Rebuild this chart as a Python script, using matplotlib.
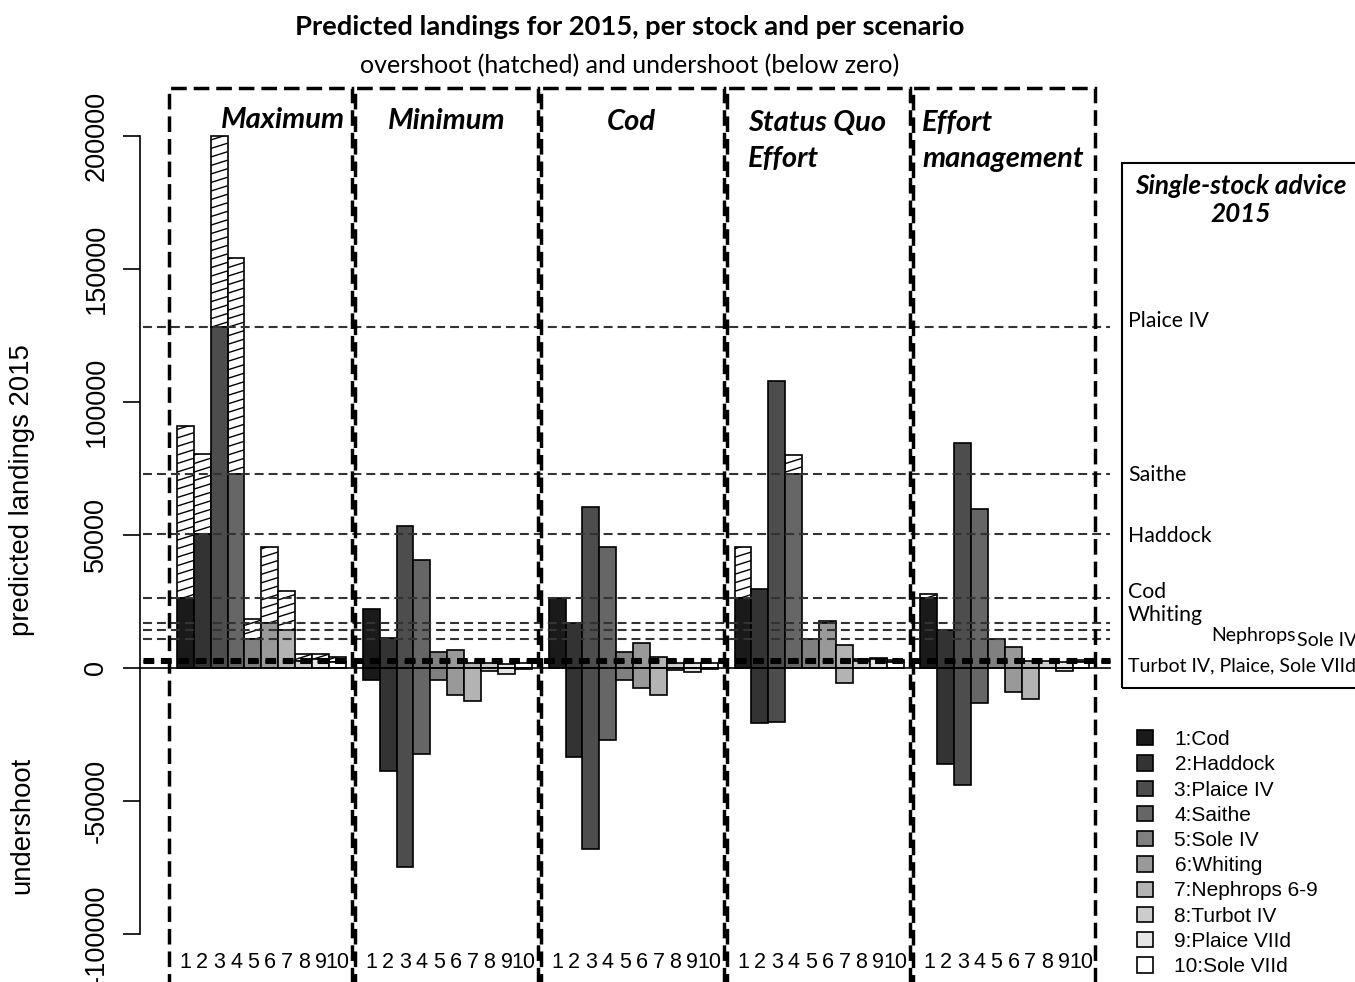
import numpy as np
import matplotlib.pyplot as plt
from matplotlib.patches import Rectangle, Patch
from matplotlib.collections import LineCollection

stocks = ['Cod', 'Haddock', 'Plaice IV', 'Saithe', 'Sole IV', 'Whiting',
          'Nephrops 6-9', 'Turbot IV', 'Plaice VIId', 'Sole VIId']
scenarios = ['Maximum', 'Minimum', 'Cod', 'Status Quo\nEffort', 'Effort\nmanagement']

# single-stock advice 2015 (tonnes)
advice = [26400, 50300, 128300, 72800, 10700, 17000, 14400, 2800, 3500, 2200]

# predicted landings 2015 per scenario
pred_maximum = [91000, 80500, 200000, 154000, 18400, 45500, 29000, 5300, 5300, 4000]
pred_minimum = [22000, 11400, 53400, 40600, 6100, 6800, 2000, 1800, 1400, 1900]
pred_cod = [26400, 16800, 60300, 45600, 6100, 9300, 4300, 2000, 1900, 2000]
pred_sq_effort = [45600, 29800, 108000, 80000, 10700, 17500, 8600, 3300, 3800, 2900]
pred_effort_mgmt = [27900, 14300, 84500, 59600, 10700, 8000, 2800, 2800, 2400, 3000]

preds = [pred_maximum, pred_minimum, pred_cod, pred_sq_effort, pred_effort_mgmt]

grays = ['#1a1a1a', '#333333', '#4d4d4d', '#666666', '#808080',
         '#999999', '#b3b3b3', '#cccccc', '#e6e6e6', '#ffffff']

W, H = 1355, 982
fig = plt.figure(figsize=(W / 100, H / 100), dpi=100)


def fpx(x, y):
    return x / W, 1 - y / H


ax = fig.add_axes([140 / W, 0, 1 - 140 / W, 1])
ax.set_xlim(-1.183, 70.71)
ax.set_ylim(-118000, 251000)

arial = 'Liberation Sans'
cal = 'Lato'


def hatch(ax, patch, x0, x1, y0, y1):
    spacing = 3200
    rise = 2000
    c0 = np.floor((y0 - rise * (x1 - x0)) / spacing) * spacing
    segs = []
    for c in np.arange(c0, y1 + spacing, spacing):
        segs.append([(x0, c), (x1, c + rise * (x1 - x0))])
    lc = LineCollection(segs, colors='black', linewidths=1.0, zorder=2.5)
    ax.add_collection(lc)
    lc.set_clip_path(patch)


for g, pred in enumerate(preds):
    for i in range(10):
        x = g * 11 + i + 1.5
        p, a = pred[i], advice[i]
        if p > a:
            b = ax.bar(x, p - a, bottom=a, width=1, color='white',
                       edgecolor='black', linewidth=1.2, zorder=2)
            hatch(ax, b.patches[0], x - 0.5, x + 0.5, a, p)
            ax.bar(x, a, width=1, color=grays[i], edgecolor='black',
                   linewidth=1.2, zorder=3)
        else:
            ax.bar(x, p, width=1, color=grays[i], edgecolor='black',
                   linewidth=1.2, zorder=3)
            if p < a:
                ax.bar(x, p - a, width=1, color=grays[i], edgecolor='black',
                       linewidth=1.2, zorder=3)
        ax.text(x, -110500, str(i + 1), ha='center', va='center',
                fontsize=15.5, family=arial)
    # dashed scenario box
    ax.add_patch(Rectangle((g * 11 + 1 - 0.45, -130000), 10.8, 348000,
                           fill=False, edgecolor='black', linewidth=2.5,
                           linestyle=(0, (4.5, 2)), zorder=5, clip_on=False))

# advice lines
for a in advice:
    thick = a < 5000
    ax.plot([-1.0, 56.2], [a, a], color='black' if thick else '#333333',
            linewidth=2.2 if thick else 1.5,
            linestyle=(0, (3.5, 2.2)) if thick else (0, (4.3, 2.4)), zorder=4)
ax.plot([-1.183, 56.2], [0, 0], color='black', linewidth=1.2, zorder=4)

# axis
for s in ['top', 'right', 'bottom']:
    ax.spines[s].set_visible(False)
ax.spines['left'].set_bounds(-100000, 200000)
ax.spines['left'].set_linewidth(1.2)
ax.set_xticks([])
yt = [-100000, -50000, 0, 50000, 100000, 150000, 200000]
ax.set_yticks(yt)
ax.set_yticklabels([str(v) for v in yt], rotation=90, va='center',
                   fontsize=19.5, family=arial)
ax.tick_params(axis='y', length=12, width=1.2, pad=10)

# right advice box
ax.add_patch(Rectangle((56.9, -7500), 20, 197300, fill=False,
                       edgecolor='black', linewidth=1.5, clip_on=False))
fig.text(*fpx(1241, 200), 'Single-stock advice\n2015', ha='center', va='center',
         fontsize=18.8, fontweight='bold', style='italic', family=cal,
         linespacing=1.2)
for txt, (x, y), fs in [('Plaice IV', (1128, 321), 15.3), ('Saithe', (1128, 475), 15.3),
                        ('Haddock', (1128, 536), 15.3), ('Cod', (1128, 592), 15.3),
                        ('Whiting', (1128, 615), 15.3), ('Nephrops', (1211, 635), 14),
                        ('Sole IV', (1297, 641), 14),
                        ('Turbot IV, Plaice, Sole VIId', (1128, 666), 14)]:
    fig.text(*fpx(x, y), txt, ha='left', va='center', fontsize=fs, family=cal)

# scenario labels
fig.text(*fpx(345, 120), 'Maximum', ha='right', va='center', fontsize=21,
         fontweight='bold', style='italic', family=cal)
fig.text(*fpx(447, 121), 'Minimum', ha='center', va='center', fontsize=21,
         fontweight='bold', style='italic', family=cal)
fig.text(*fpx(631, 122), 'Cod', ha='center', va='center', fontsize=21,
         fontweight='bold', style='italic', family=cal)
fig.text(*fpx(748, 141), 'Status Quo\nEffort', ha='left', va='center', fontsize=21,
         fontweight='bold', style='italic', family=cal, linespacing=1.45)
fig.text(*fpx(922, 141), 'Effort\nmanagement', ha='left', va='center', fontsize=21,
         fontweight='bold', style='italic', family=cal, linespacing=1.45)

# titles
fig.text(*fpx(630, 27), 'Predicted landings for 2015, per stock and per scenario',
         ha='center', va='center', fontsize=19.7, fontweight='bold', family=cal)
fig.text(*fpx(630, 66), 'overshoot (hatched) and undershoot (below zero)',
         ha='center', va='center', fontsize=18, family=cal)
fig.text(*fpx(22, 490), 'predicted landings 2015', rotation=90, ha='center',
         va='center', fontsize=19.8, family=arial)
fig.text(*fpx(22, 825), 'undershoot', rotation=90, ha='center', va='center',
         fontsize=19.8, family=arial)

# legend
handles = [Patch(facecolor=grays[i], edgecolor='black', linewidth=1.2)
           for i in range(10)]
labels = [f'{i + 1}:{s}' for i, s in enumerate(stocks)]
fig.legend(handles, labels, loc='upper left', bbox_to_anchor=fpx(1137, 730),
           frameon=False, prop={'family': arial, 'size': 15},
           handlelength=0.75, handleheight=0.75, labelspacing=0.3,
           handletextpad=1.05, borderaxespad=0, borderpad=0)

fig.savefig('out.png', dpi=100)
